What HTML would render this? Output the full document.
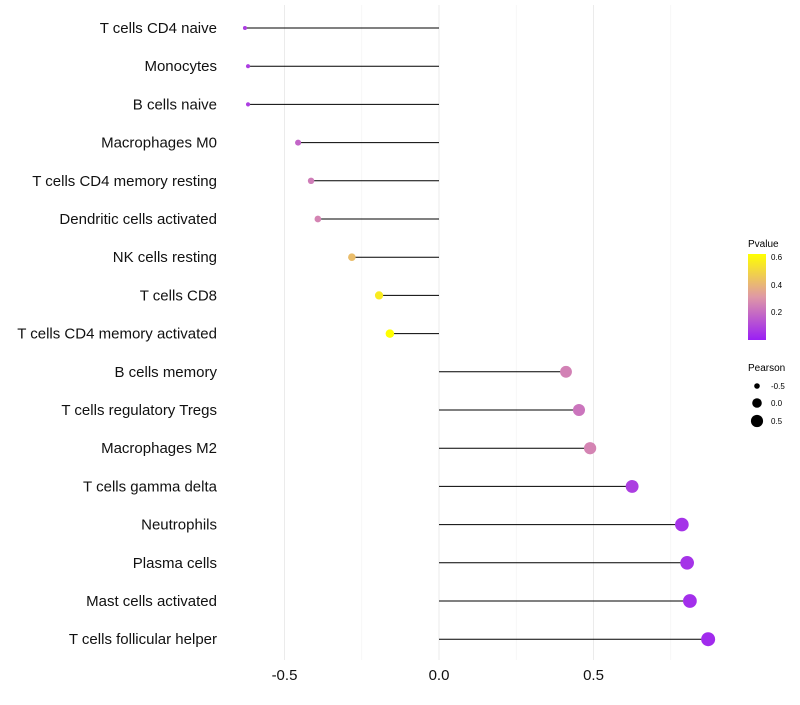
<!DOCTYPE html>
<html><head><meta charset="utf-8"><style>body{margin:0;background:#fff}svg{font-family:"Liberation Sans",sans-serif}</style></head>
<body>
<svg id="chart" width="800" height="700" xmlns="http://www.w3.org/2000/svg">
<defs><linearGradient id="pg" x1="0" y1="1" x2="0" y2="0">
<stop offset="0" stop-color="#9a1ff5"/><stop offset="0.5" stop-color="#df98a6"/><stop offset="1" stop-color="#ffff00"/></linearGradient></defs>
<g id="grid"></g><g id="marks"></g><g id="labels"></g>
<g id="legend">
<text x="748" y="247" font-size="10">Pvalue</text>
<rect x="748" y="254" width="18" height="86" fill="url(#pg)"/>
<text x="771" y="260" font-size="8">0.6</text>
<text x="771" y="288" font-size="8">0.4</text>
<text x="771" y="315" font-size="8">0.2</text>
<text x="748" y="371" font-size="10">Pearson</text>
<circle cx="757" cy="386" r="2.8" fill="#000"/>
<circle cx="757" cy="403" r="4.8" fill="#000"/>
<circle cx="757" cy="421" r="6.1" fill="#000"/>
<text x="771" y="389" font-size="8">-0.5</text>
<text x="771" y="406" font-size="8">0.0</text>
<text x="771" y="424" font-size="8">0.5</text>
</g>
</svg>
<script>
const categories=["T cells CD4 naive","Monocytes","B cells naive","Macrophages M0","T cells CD4 memory resting","Dendritic cells activated","NK cells resting","T cells CD8","T cells CD4 memory activated","B cells memory","T cells regulatory  Tregs ","Macrophages M2","T cells gamma delta","Neutrophils","Plasma cells","Mast cells activated","T cells follicular helper"];
const pearson=[-0.628,-0.618,-0.618,-0.456,-0.414,-0.392,-0.282,-0.194,-0.159,0.411,0.453,0.489,0.625,0.786,0.803,0.812,0.871];
const pvalue=[0.08,0.08,0.08,0.18,0.24,0.26,0.42,0.56,0.62,0.25,0.22,0.26,0.08,0.05,0.05,0.04,0.03];
const xTicks=[-0.5,0,0.5];
const xTickLabels=["-0.5","0.0","0.5"];
const minorTicks=[-0.25,0.25,0.75];
const NS="http://www.w3.org/2000/svg";
const x=v=>439+v*309;
const y=i=>28+i*38.2;
const rad=v=>Math.sqrt(Math.max(1,22.9+30*v));
function lerp(a,b,t){return a.map((c,k)=>Math.round(c+(b[k]-c)*t));}
function col(p){const t=Math.min(1,Math.max(0,p/0.62));const s=[[154,31,245],[223,152,166],[255,255,0]];
 const c=t<0.5?lerp(s[0],s[1],t*2):lerp(s[1],s[2],(t-0.5)*2);return `rgb(${c})`;}
function mk(tag,attrs,parent){const e=document.createElementNS(NS,tag);for(const k in attrs)e.setAttribute(k,attrs[k]);document.getElementById(parent).appendChild(e);return e;}
minorTicks.forEach(v=>{const l=mk('line',{x1:x(v),x2:x(v),y1:5,y2:660,stroke:'#f2f2f2','stroke-width':0.6},'grid');

});
xTicks.forEach((v,i)=>{const l=mk('line',{x1:x(v),x2:x(v),y1:5,y2:660,stroke:'#ebebeb','stroke-width':1},'grid');


const t=mk('text',{x:x(v),y:680,'font-size':15,'text-anchor':'middle',fill:'#111'},'labels');t.textContent=xTickLabels[i];

});
categories.forEach((c,i)=>{
const t=mk('text',{x:217,y:y(i)+5,'font-size':15,'text-anchor':'end',fill:'#111'},'labels');t.textContent=c;


const l=mk('line',{x1:x(0),x2:x(pearson[i]),y1:y(i),y2:y(i),stroke:'#000','stroke-width':1},'marks');


const d=mk('circle',{cx:x(pearson[i]),cy:y(i),r:rad(pearson[i]),fill:col(pvalue[i])},'marks');


});
</script>
</body></html>
